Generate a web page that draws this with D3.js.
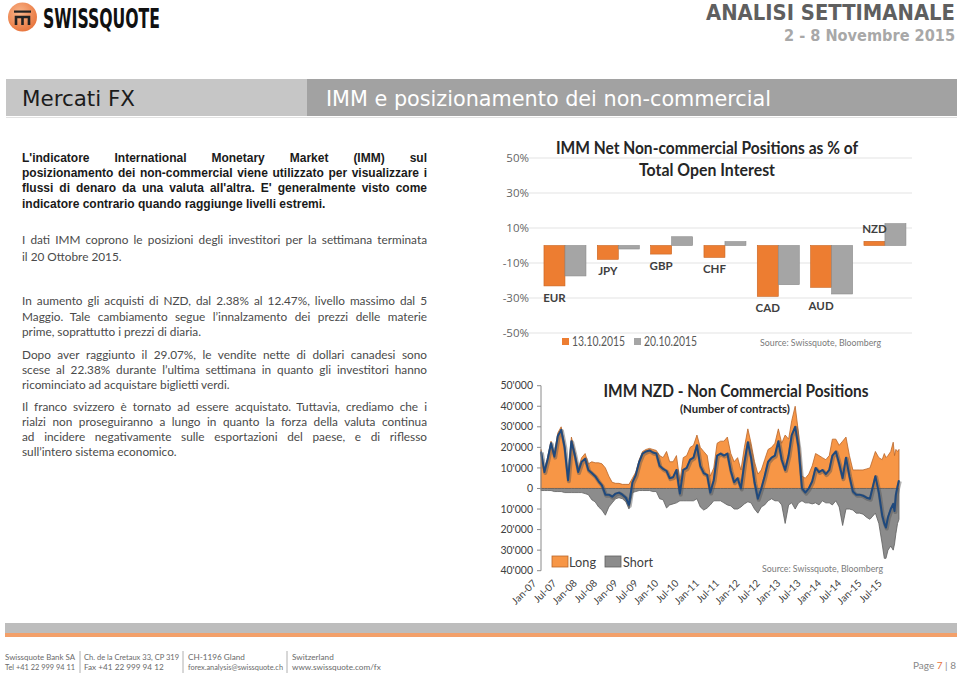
<!DOCTYPE html>
<html><head><meta charset="utf-8">
<script src="https://cdn.jsdelivr.net/npm/d3@7"></script>
<style>
html,body{margin:0;padding:0;background:#fff;}
svg{display:block;}
</style></head><body>
<svg id="page" width="960" height="676"></svg>
<script>
// ---------- DATA: IMM % of open interest ----------
const barCategories = ["EUR","JPY","GBP","CHF","CAD","AUD","NZD"];
const barSeriesNames = ["13.10.2015","20.10.2015"];
const pctOct13 = [-23.1,-7.9,-4.9,-6.8,-29.07,-23.9,2.38];
const pctOct20 = [-17.4,-2.0,5.0,2.2,-22.38,-27.7,12.47];
const pctTicks = [-50,-30,-10,10,30,50];

// ---------- DATA: IMM NZD non-commercial positions (thousands of contracts) ----------
const nzdDates = [
 "2007-01","2007-02","2007-03","2007-04","2007-05","2007-06","2007-07","2007-08","2007-09","2007-10","2007-11","2007-12",
 "2008-01","2008-02","2008-03","2008-04","2008-05","2008-06","2008-07","2008-08","2008-09","2008-10","2008-11","2008-12",
 "2009-01","2009-02","2009-03","2009-04","2009-05","2009-06","2009-07","2009-08","2009-09","2009-10","2009-11","2009-12",
 "2010-01","2010-02","2010-03","2010-04","2010-05","2010-06","2010-07","2010-08","2010-09","2010-10","2010-11","2010-12",
 "2011-01","2011-02","2011-03","2011-04","2011-05","2011-06","2011-07","2011-08","2011-09","2011-10","2011-11","2011-12",
 "2012-01","2012-02","2012-03","2012-04","2012-05","2012-06","2012-07","2012-08","2012-09","2012-10","2012-11","2012-12",
 "2013-01","2013-02","2013-03","2013-04","2013-05","2013-06","2013-07","2013-08","2013-09","2013-10","2013-11","2013-12",
 "2014-01","2014-02","2014-03","2014-04","2014-05","2014-06","2014-07","2014-08","2014-09","2014-10","2014-11","2014-12",
 "2015-01","2015-02","2015-03-22","2015-04-22","2015-05-22","2015-06-10","2015-06-25","2015-07-13","2015-08-07","2015-08-29",
 "2015-09-10","2015-09-22","2015-10-07","2015-10-20"];
const nzdLongK = [
 19,9,15,23,17,27,30,22,6,25,18,10,
 15,17,12,13,12.5,12.5,12,10,6,3,2.5,2.5,
 2,2,2,5,8,14,18,19,19.5,19,18.5,16,
 15,18,13,13,16,3.5,15,16,20,21,26,20,
 18,16,6,10,22,23,23,25,17,13,15,9,
 20,29,22,13,7,9,14,19,20,22,29,22,
 26,24,33,40,27,6,5,7,11,17,16,15,
 14,16,24,24,21,23,25,16,9,9,9,9,
 9.5,10,18,15,14,17,15,16,18,22.5,16,19,18,19];
const nzdShortK = [
 -1,-1,-1,-1,-1.5,-1.5,-1.5,-2,-2,-2,-2,-2,
 -2,-2.5,-3,-5.5,-6.5,-9,-10.5,-13,-9,-7,-5,-4.5,
 -5,-6.5,-10,-2,-1.5,-1,-1,-1,-1,-1.5,-1.5,-5,
 -5.5,-9.5,-8,-7.5,-7,-6,-6,-6,-6,-6,-5,-9,
 -10.5,-9.5,-8,-6,-6,-6,-7,-8,-8.5,-10,-10,-9,
 -7.5,-6.5,-7,-10,-12,-9,-8,-6,-5,-6,-6,-8,
 -17,-8,-7,-10,-7,-6,-7,-7,-7.5,-7,-8,-6,
 -7,-7,-8,-6,-9,-18,-10,-10,-10.5,-12,-12,-12.5,
 -14,-15,-12,-17,-27,-34,-34,-30,-28,-30,-27,-22,-17,-15];
const nzdNetK = [
 18,8,14,22,15.5,25.5,28.5,20,4,23,16,8,
 13,14.5,9,7.5,6,3.5,1.5,-3,-3,-4,-2.5,-2,
 -3,-4.5,-8,3,6.5,13,17,18,18.5,17.5,17,11,
 9.5,8.5,5,5.5,9,-2.5,9,10,14,15,21,11,
 7.5,6.5,-2,4,16,17,16,17,8.5,3,5,0,
 12.5,22.5,15,3,-5,0,6,13,15,16,23,14,
 9,16,26,30,20,0,-2,0,3.5,10,8,9,
 7,9,16,18,12,5,15,6,-1.5,-3,-3,-3.5,
 -4.5,-5,6,-2,-13,-17,-19,-14,-10,-7.5,-11,-3,1,4];
const nzdTicksK = [-40,-30,-20,-10,0,10,20,30,40,50];
const nzdDateTicks = ["2007-01","2007-07","2008-01","2008-07","2009-01","2009-07","2010-01","2010-07",
 "2011-01","2011-07","2012-01","2012-07","2013-01","2013-07","2014-01","2014-07","2015-01","2015-07"];
const nzdLegend = ["Long","Short"];

// ---------- PAGE TEXT ----------
const para1 = ["L'indicatore International Monetary Market (IMM) sul",
 "posizionamento dei non-commercial viene utilizzato per visualizzare i",
 "flussi di denaro da una valuta all'altra. E' generalmente visto come",
 "indicatore contrario quando raggiunge livelli estremi."];
const paraNormal = [
 {y:[244,261], lines:["I dati IMM coprono le posizioni degli investitori per la settimana terminata","il 20 Ottobre 2015."]},
 {y:[305,321,336], lines:["In aumento gli acquisti di NZD, dal 2.38% al 12.47%, livello massimo dal 5",
   "Maggio. Tale cambiamento segue l’innalzamento dei prezzi delle materie",
   "prime, soprattutto i prezzi di diaria."]},
 {y:[359,374,389], lines:["Dopo aver raggiunto il 29.07%, le vendite nette di dollari canadesi sono",
   "scese al 22.38% durante l’ultima settimana in quanto gli investitori hanno",
   "ricominciato ad acquistare biglietti verdi."]},
 {y:[411,426,441,456], lines:["Il franco svizzero è tornato ad essere acquistato. Tuttavia, crediamo che i",
   "rialzi non proseguiranno a lungo in quanto la forza della valuta continua",
   "ad incidere negativamente sulle esportazioni del paese, e di riflesso",
   "sull’intero sistema economico."]}
];
const footerCols = [
 ["Swissquote Bank SA","Tel +41 22 999 94 11"],
 ["Ch. de la Cretaux 33, CP 319","Fax +41 22 999 94 12"],
 ["CH-1196 Gland","forex.analysis@swissquote.ch"],
 ["Switzerland","www.swissquote.com/fx"]];

const NARROW = "'Liberation Sans Narrow','DejaVu Sans Condensed','Roboto Condensed',sans-serif";
const CAL = "Lato,'Open Sans',sans-serif";
const svg = d3.select("#page");
svg.append("rect").attr("width",960).attr("height",676).attr("fill","#fff");

function fitTo(sel, maxW){
  const w = sel.node().getComputedTextLength();
  if (w > maxW) sel.attr("textLength", maxW).attr("lengthAdjust","spacingAndGlyphs");
}
function justifyLine(parent, text, x0, width, y, style){
  const t = parent.append("text").attr("y", y);
  Object.entries(style).forEach(([k,v])=>t.attr(k,v));
  const words = text.split(" ");
  const spans = words.map(w=>t.append("tspan").text(w));
  const widths = spans.map(s=>s.node().getComputedTextLength());
  const total = d3.sum(widths);
  const gap = words.length>1 ? (width-total)/(words.length-1) : 0;
  let x = x0;
  spans.forEach((s,i)=>{ s.attr("x",x); x += widths[i]+gap; });
  return t;
}

// ---------- HEADER ----------
const defs = svg.append("defs");
const rg = defs.append("radialGradient").attr("id","logoG").attr("cx","40%").attr("cy","35%").attr("r","70%");
rg.append("stop").attr("offset","0%").attr("stop-color","#f9b58a");
rg.append("stop").attr("offset","100%").attr("stop-color","#e8733a");
svg.append("circle").attr("cx",22.5).attr("cy",17).attr("r",14.5).attr("fill","url(#logoG)");
svg.append("rect").attr("x",14).attr("y",10.5).attr("width",17).attr("height",2.2).attr("fill","#222");
svg.append("path").attr("d","M16,25 V17 H29 V25 M22.5,17 V25").attr("fill","none").attr("stroke","#222").attr("stroke-width",2.6);
svg.append("text").attr("x",43).attr("y",28).attr("font-family",NARROW).attr("font-weight","bold")
  .attr("font-size",26).attr("fill","#111").attr("textLength",117).attr("lengthAdjust","spacingAndGlyphs").text("SWISSQUOTE");
svg.append("text").attr("x",955).attr("y",20).attr("text-anchor","end").attr("font-family",NARROW).attr("font-weight","bold")
  .attr("font-size",22).attr("fill","#5f5f5f").attr("textLength",249).attr("lengthAdjust","spacingAndGlyphs").text("ANALISI SETTIMANALE");
svg.append("text").attr("x",955).attr("y",41).attr("text-anchor","end").attr("font-family",NARROW).attr("font-weight","bold")
  .attr("font-size",16).attr("fill","#a8a8a8").attr("textLength",171).attr("lengthAdjust","spacingAndGlyphs").text("2 - 8 Novembre 2015");

svg.append("rect").attr("x",6).attr("y",79).attr("width",301).attr("height",37).attr("fill","#c6c6c6");
svg.append("rect").attr("x",307).attr("y",79).attr("width",650).attr("height",37).attr("fill","#a2a2a2");
svg.append("rect").attr("x",6).attr("y",117).attr("width",951).attr("height",1).attr("fill","#e2e2e2");
svg.append("text").attr("x",22).attr("y",106).attr("font-family",NARROW).attr("font-size",21).attr("fill","#1c1c1c")
  .attr("textLength",113).attr("lengthAdjust","spacingAndGlyphs").text("Mercati FX");
svg.append("text").attr("x",326).attr("y",106).attr("font-family",NARROW).attr("font-size",21).attr("fill","#fff")
  .attr("textLength",445).attr("lengthAdjust","spacingAndGlyphs").text("IMM e posizionamento dei non-commercial");

// ---------- LEFT TEXT ----------
const TX0 = 22, TW = 405;
const p1y = [162,177,192,208];
const boldStyle = {"font-family":"'Liberation Sans',Arial,sans-serif","font-weight":"bold","font-size":12,"fill":"#1a1a1a"};
const normStyle = {"font-family":CAL,"font-size":11.8,"fill":"#4a4a4a"};
para1.forEach((l,i)=>{
  if(i<para1.length-1) justifyLine(svg,l,TX0,TW,p1y[i],boldStyle);
  else { const t = svg.append("text").attr("x",TX0).attr("y",p1y[i]).text(l); Object.entries(boldStyle).forEach(([k,v])=>t.attr(k,v)); fitTo(t,TW); }
});
paraNormal.forEach(p=>{
  p.lines.forEach((l,i)=>{
    if(i<p.lines.length-1) justifyLine(svg,l,TX0,TW,p.y[i],normStyle);
    else { const t = svg.append("text").attr("x",TX0).attr("y",p.y[i]).text(l); Object.entries(normStyle).forEach(([k,v])=>t.attr(k,v)); }
  });
});

// ---------- TOP CHART: bars ----------
const yP = d3.scaleLinear().domain([-50,50]).range([333,158]);
const xP = d3.scaleBand().domain(barCategories).range([538.3,911.6]).paddingInner(0.2125).paddingOuter(0.10625);
const xS = d3.scaleBand().domain([0,1]).range([0,xP.bandwidth()]);
const barColors = ["#ed7d31","#a5a5a5"];
const barStroke = ["#c8631f","#8a8a8a"];
const gTop = svg.append("g");
gTop.selectAll("line.grid").data(pctTicks).join("line").attr("x1",529).attr("x2",912)
  .attr("y1",d=>yP(d)).attr("y2",d=>yP(d)).attr("stroke","#e3e3e3").attr("stroke-width",1);
gTop.selectAll("text.ytick").data(pctTicks).join("text").attr("x",529).attr("y",d=>yP(d)).attr("dy","0.35em")
  .attr("text-anchor","end").attr("font-family","'Open Sans',sans-serif").attr("font-size",11.5).attr("fill","#666")
  .text(d=>d+"%");
[pctOct13,pctOct20].forEach((vals,s)=>{
  gTop.selectAll("rect.s"+s).data(vals).join("rect")
    .attr("x",(d,i)=>xP(barCategories[i])+xS(s)).attr("width",xS.bandwidth())
    .attr("y",d=>yP(Math.max(0,d))).attr("height",d=>Math.abs(yP(d)-yP(0)))
    .attr("fill",barColors[s]).attr("stroke",barStroke[s]).attr("stroke-width",0.6);
});
barCategories.forEach((c,i)=>{
  const a = pctOct13[i], b = pctOct20[i];
  const cx = xP(c)+xS(0)+xS.bandwidth()/2;
  const y = a<0 ? yP(Math.min(a,b))+12 : yP(a)-12;
  gTop.append("text").attr("x",cx).attr("y",y).attr("dy","0.35em").attr("text-anchor","middle")
    .attr("font-family",CAL).attr("font-weight","bold").attr("font-size",11.5).attr("fill","#3f3f3f").text(c);
});
gTop.append("text").attr("x",707).attr("y",154).attr("text-anchor","middle").attr("font-family",CAL).attr("font-weight","bold")
  .attr("font-size",16.5).attr("fill","#262626").attr("textLength",302).attr("lengthAdjust","spacingAndGlyphs")
  .text("IMM Net Non-commercial Positions as % of");
gTop.append("text").attr("x",707).attr("y",176).attr("text-anchor","middle").attr("font-family",CAL).attr("font-weight","bold")
  .attr("font-size",16.5).attr("fill","#262626").attr("textLength",136).attr("lengthAdjust","spacingAndGlyphs")
  .text("Total Open Interest");
const legX = [562,634];
barSeriesNames.forEach((n,s)=>{
  gTop.append("rect").attr("x",legX[s]).attr("y",338).attr("width",7).attr("height",7).attr("fill",barColors[s]);
  gTop.append("text").attr("x",legX[s]+10).attr("y",346).attr("font-family",CAL).attr("font-size",12.5)
    .attr("fill","#595959").attr("textLength",53).attr("lengthAdjust","spacingAndGlyphs").text(n);
});
gTop.append("text").attr("x",760).attr("y",346).attr("font-family",CAL).attr("font-size",9.5).attr("fill","#7a7a7a")
  .attr("textLength",121).attr("lengthAdjust","spacingAndGlyphs").text("Source: Swissquote, Bloomberg");

// ---------- BOTTOM CHART: NZD positions ----------
const parseD = s => d3.timeParse("%Y-%m-%d")(s.length===7 ? s+"-01" : s);
const dts = nzdDates.map(parseD);
const xT = d3.scaleTime().domain([parseD("2007-01-01"),parseD("2015-10-20")]).range([541,899]);
const yN = d3.scaleLinear().domain([-40,50]).range([570.7,385.7]);
const gB = svg.append("g");
const idx = d3.range(dts.length);
gB.append("path").datum(idx).attr("d",d3.area().x(i=>xT(dts[i])).y0(yN(0)).y1(i=>yN(nzdLongK[i])))
  .attr("fill","#f79646").attr("stroke","#b9662a").attr("stroke-width",0.8);
gB.append("path").datum(idx).attr("d",d3.area().x(i=>xT(dts[i])).y0(yN(0)).y1(i=>yN(nzdShortK[i])))
  .attr("fill","#8c8c8c").attr("stroke","#5f5f5f").attr("stroke-width",0.8);
const netLine = d3.line().x(i=>xT(dts[i])).y(i=>yN(nzdNetK[i]));
gB.append("path").datum(idx).attr("d",netLine).attr("fill","none").attr("stroke","#555").attr("stroke-opacity",0.45)
  .attr("stroke-width",4).attr("transform","translate(0.8,1)").attr("stroke-linejoin","round");
gB.append("path").datum(idx).attr("d",netLine).attr("fill","none").attr("stroke","#1f497d")
  .attr("stroke-width",2).attr("stroke-linejoin","round");
gB.append("line").attr("x1",541).attr("x2",541).attr("y1",yN(50)).attr("y2",yN(-40)).attr("stroke","#8a8a8a");
gB.selectAll("line.tk").data(nzdTicksK).join("line").attr("x1",537).attr("x2",541)
  .attr("y1",d=>yN(d)).attr("y2",d=>yN(d)).attr("stroke","#8a8a8a");
const fmtK = d => d===0 ? "0" : d3.format(",")(Math.abs(d)*1000).replace(/,/g,"'");
gB.selectAll("text.yt").data(nzdTicksK).join("text").attr("x",533).attr("y",d=>yN(d)).attr("dy","0.35em")
  .attr("text-anchor","end").attr("font-family",CAL).attr("font-size",10.5).attr("fill","#404040").text(fmtK);
const fmtM = d3.timeFormat("%b-%y");
nzdDateTicks.forEach(s=>{
  const d = parseD(s);
  gB.append("text").attr("transform",`translate(${xT(d)-4},584) rotate(-45)`).attr("text-anchor","end")
    .attr("font-family",CAL).attr("font-size",10).attr("fill","#404040").text(fmtM(d));
});
gB.append("text").attr("x",736).attr("y",397).attr("text-anchor","middle").attr("font-family",CAL).attr("font-weight","bold")
  .attr("font-size",16.5).attr("fill","#262626").attr("textLength",265).attr("lengthAdjust","spacingAndGlyphs")
  .text("IMM NZD - Non Commercial Positions");
gB.append("text").attr("x",735).attr("y",413).attr("text-anchor","middle").attr("font-family",CAL).attr("font-weight","bold")
  .attr("font-size",11.5).attr("fill","#262626").attr("textLength",110).attr("lengthAdjust","spacingAndGlyphs")
  .text("(Number of contracts)");
const legB = [{x:552,tx:569,w:27,fill:"#f79646",st:"#b9662a"},{x:605,tx:623,w:30,fill:"#8c8c8c",st:"#5f5f5f"}];
nzdLegend.forEach((n,i)=>{
  const L = legB[i];
  gB.append("rect").attr("x",L.x).attr("y",556).attr("width",16).attr("height",11).attr("fill",L.fill).attr("stroke",L.st).attr("stroke-width",0.8);
  gB.append("text").attr("x",L.tx).attr("y",567).attr("font-family",CAL).attr("font-size",14).attr("fill","#404040")
    .attr("textLength",L.w).attr("lengthAdjust","spacingAndGlyphs").text(n);
});
gB.append("text").attr("x",762).attr("y",572).attr("font-family",CAL).attr("font-size",9.5).attr("fill","#7a7a7a")
  .attr("textLength",121).attr("lengthAdjust","spacingAndGlyphs").text("Source: Swissquote, Bloomberg");

// ---------- FOOTER ----------
svg.append("rect").attr("x",5).attr("y",623).attr("width",952).attr("height",10).attr("fill","#bdbdbd");
svg.append("rect").attr("x",5).attr("y",633).attr("width",952).attr("height",4).attr("fill","#f3a06a");
const fx = [5,84,188,292], sepX = [80,183,287], fMax = [70,95,95,90];
sepX.forEach(x=>svg.append("line").attr("x1",x).attr("x2",x).attr("y1",651).attr("y2",673).attr("stroke","#b0b0b0"));
footerCols.forEach((c,i)=>{
  c.forEach((t,j)=>{
    const tt = svg.append("text").attr("x",fx[i]).attr("y",660+j*10).attr("font-family",CAL)
      .attr("font-size",8.2).attr("fill","#6a6a6a").text(t);
    fitTo(tt, fMax[i]);
  });
});
const pg = svg.append("text").attr("x",956).attr("y",669).attr("text-anchor","end").attr("font-family",CAL)
  .attr("font-size",10).attr("fill","#888");
pg.append("tspan").text("Page ");
pg.append("tspan").attr("fill","#e8733a").text("7");
pg.append("tspan").text(" | 8");
</script>
</body></html>
